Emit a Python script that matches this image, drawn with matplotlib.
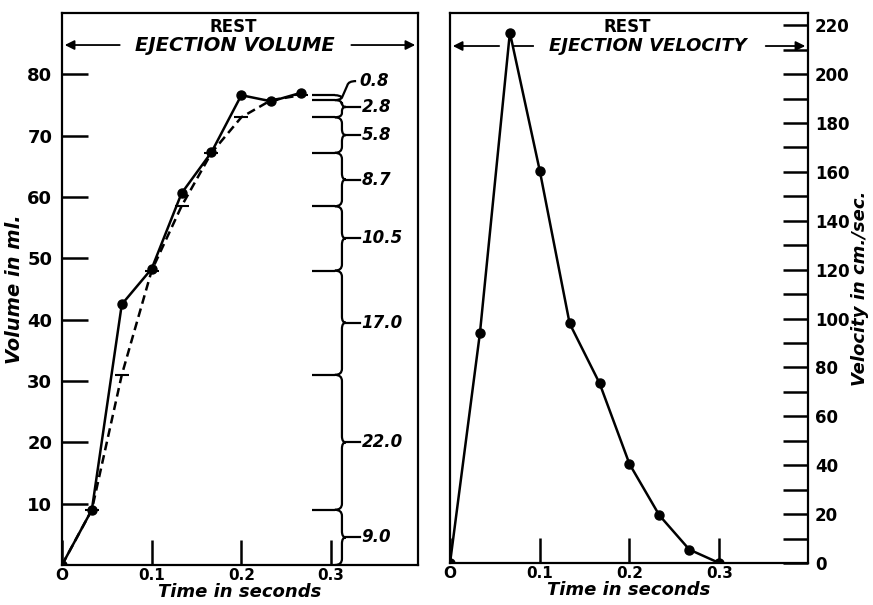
import matplotlib
matplotlib.use('Agg')
import matplotlib.pyplot as plt
from matplotlib.path import Path
from matplotlib.patches import PathPatch

# time points (seconds)
t_vol = [0, 0.0333, 0.0667, 0.1, 0.1333, 0.1667, 0.2, 0.2333, 0.2667]
vol_measured = [0, 9.0, 42.5, 48.3, 60.6, 67.3, 76.6, 75.6, 77.0]
# smoothed volume = running sum of the bracket increments
increments = [9.0, 22.0, 17.0, 10.5, 8.7, 5.8, 2.8, 0.8]
inc_labels = ['9.0', '22.0', '17.0', '10.5', '8.7', '5.8', '2.8', '0.8']
vol_smooth = [0]
for d in increments:
    vol_smooth.append(round(vol_smooth[-1] + d, 1))

t_vel = [0, 0.0333, 0.0667, 0.1, 0.1333, 0.1667, 0.2, 0.2333, 0.2667, 0.3]
velocity = [0, 94, 217, 160.5, 98, 73.5, 40.5, 19.5, 5.5, 0]

lw = 1.8
lab_font = dict(fontsize=14, style='italic', fontweight='bold')
xlab_font = dict(fontsize=13, style='italic', fontweight='bold')
fig = plt.figure(figsize=(8.73, 6.05), dpi=100)

# ---------------- left panel: ejection volume
ax = fig.add_axes([0.0710, 0.0661, 0.4078, 0.9124])
ax.plot(t_vol, vol_measured, color='black', lw=lw, marker='o', ms=6.5, zorder=3)
ax.plot(t_vol, vol_smooth, color='black', lw=lw, ls=(0, (3.5, 2)), marker='_',
        ms=10, mew=1.5, zorder=2)
ax.set_xlim(0, 0.397)
ax.set_ylim(0, 90)
ax.set_xticks([0, 0.1, 0.2, 0.3])
ax.set_xticklabels(['O', '0.1', '0.2', '0.3'])
ax.set_yticks([10, 20, 30, 40, 50, 60, 70, 80])
ax.tick_params(axis='y', direction='in', length=19, width=1.8, pad=7, labelsize=13)
ax.tick_params(axis='x', direction='in', length=18, width=1.8, pad=2, labelsize=11)
for lab in ax.get_xticklabels() + ax.get_yticklabels():
    lab.set_fontweight('bold')
for s in ax.spines.values():
    s.set_linewidth(1.6)
ax.set_ylabel('Volume in ml.', labelpad=2, **lab_font)
ax.set_xlabel('Time in seconds', labelpad=0, **xlab_font)

# header with arrows
ax.text(0.48, 0.975, 'REST', transform=ax.transAxes, ha='center', va='center',
        fontsize=12, fontweight='bold')
ax.text(0.487, 0.942, 'EJECTION VOLUME', transform=ax.transAxes, ha='center',
        va='center', fontsize=14, style='italic', fontweight='bold')
ax.annotate('', xy=(0.0, 0.942), xytext=(0.17, 0.942), xycoords='axes fraction',
            arrowprops=dict(arrowstyle='-|>', color='black', lw=1.3, mutation_scale=14))
ax.annotate('', xy=(1.0, 0.942), xytext=(0.805, 0.942), xycoords='axes fraction',
            arrowprops=dict(arrowstyle='-|>', color='black', lw=1.3, mutation_scale=14))

# bracket scale on the right
x_line0, xh, xv, xc, xp = 0.279, 0.3043, 0.3122, 0.3166, 0.332
for y in vol_smooth[1:]:
    ax.plot([x_line0, xh], [y, y], color='black', lw=1.6, solid_capstyle='butt')

M, C, L = Path.MOVETO, Path.CURVE3, Path.LINETO
for i, lab in enumerate(inc_labels):
    y0, y1 = vol_smooth[i], vol_smooth[i + 1]
    span = y1 - y0
    if span < 1.5:
        ym = (y0 + y1) / 2
        verts = [(xh, y1), (xv - 0.002, y1), (xv, ym),
                 (xh, y0), (xv - 0.002, y0), (xv, ym),
                 (xv + 0.006, y1 + 1.6), (xv + 0.007, y1 + 2.3), (xp - 0.004, y1 + 2.3)]
        codes = [M, C, C, M, C, C, L, C, C]
        ax.add_patch(PathPatch(Path(verts, codes), fill=False, lw=1.6))
        ax.text(xp, y1 + 2.3, lab, fontsize=12, style='italic', fontweight='bold',
                va='center', ha='left')
        continue
    ym = y0 + span / 2
    if lab == '2.8':
        ym = y0 + span * 0.6
    r = min(1.0, span / 4)
    verts = [(xh, y0), (xv, y0), (xv, y0 + r),
             (xv, ym - r), (xv, ym), (xc, ym),
             (xc, ym), (xv, ym), (xv, ym + r),
             (xv, y1 - r), (xv, y1), (xh, y1)]
    codes = [M, C, C, L, C, C, M, C, C, L, C, C]
    ax.add_patch(PathPatch(Path(verts, codes), fill=False, lw=1.6))
    ax.plot([xc, xp], [ym, ym], color='black', lw=1.6)
    ax.text(xp + 0.002, ym, lab, fontsize=12, style='italic', fontweight='bold',
            va='center', ha='left')

# ---------------- right panel: ejection velocity
ax2 = fig.add_axes([0.5155, 0.0694, 0.4101, 0.9091])
ax2.plot(t_vel, velocity, color='black', lw=lw, marker='o', ms=6.5)
ax2.set_xlim(0, 0.399)
ax2.set_ylim(0, 225)
ax2.set_xticks([0, 0.1, 0.2, 0.3])
ax2.set_xticklabels(['O', '0.1', '0.2', '0.3'])
ax2.set_yticks(range(0, 221, 20))
ax2.set_yticks(range(10, 221, 20), minor=True)
ax2.yaxis.tick_right()
ax2.yaxis.set_label_position('right')
ax2.tick_params(axis='y', which='both', direction='in', length=18, width=1.8,
                pad=5, labelsize=12)
ax2.tick_params(axis='x', direction='in', length=18, width=1.8, pad=2, labelsize=11)
for lab in ax2.get_xticklabels() + ax2.get_yticklabels():
    lab.set_fontweight('bold')
for s in ax2.spines.values():
    s.set_linewidth(1.6)
ax2.set_ylabel('Velocity in cm./sec.', labelpad=1, fontsize=13, style='italic',
               fontweight='bold')
ax2.set_xlabel('Time in seconds', labelpad=0, **xlab_font)

ax2.text(0.494, 0.975, 'REST', transform=ax2.transAxes, ha='center', va='center',
         fontsize=12, fontweight='bold')
ax2.text(0.553, 0.94, 'EJECTION VELOCITY', transform=ax2.transAxes, ha='center',
         va='center', fontsize=13, style='italic', fontweight='bold')
ax2.plot([0.175, 0.232], [0.94, 0.94], transform=ax2.transAxes, color='black', lw=1.3)
ax2.annotate('', xy=(0.0, 0.94), xytext=(0.145, 0.94), xycoords='axes fraction',
             arrowprops=dict(arrowstyle='-|>', color='black', lw=1.3, mutation_scale=14))
ax2.annotate('', xy=(1.0, 0.94), xytext=(0.874, 0.94), xycoords='axes fraction',
             arrowprops=dict(arrowstyle='-|>', color='black', lw=1.3, mutation_scale=14))

fig.savefig('out.png', dpi=100)
